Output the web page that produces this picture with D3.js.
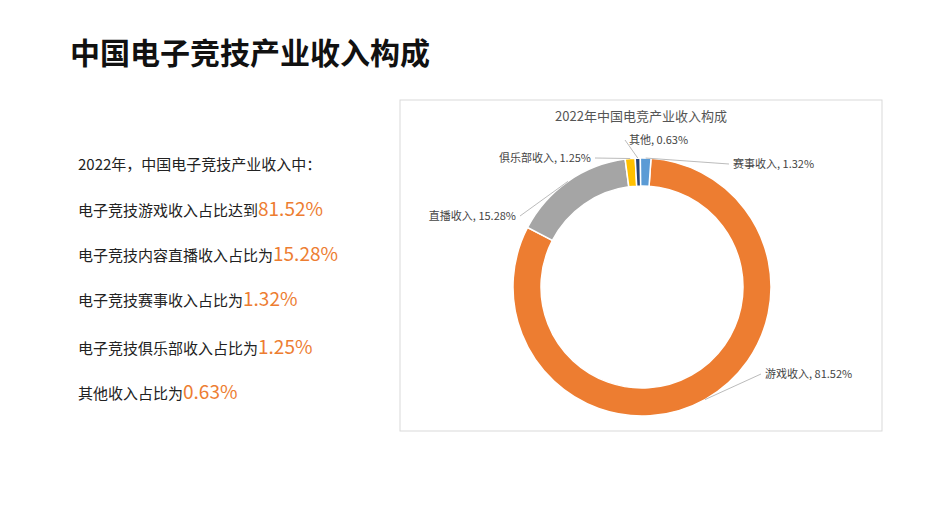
<!DOCTYPE html>
<html><head><meta charset="utf-8">
<script src="https://cdn.jsdelivr.net/npm/d3@7"></script>
<style>body{margin:0;background:#fff;font-family:"Noto Sans CJK SC",sans-serif}</style>
</head><body><svg id="c" width="937" height="529"></svg>
<script>
const categories=["游戏收入","直播收入","俱乐部收入","其他","赛事收入"];
const values=[81.52,15.28,1.25,0.63,1.32];
const colors=["#ED7D31","#A5A5A5","#FFC000","#264478","#5B9BD5"];
const summaryLines=["电子竞技游戏收入占比达到","电子竞技内容直播收入占比为","电子竞技赛事收入占比为","电子竞技俱乐部收入占比为","其他收入占比为"];
const summaryValues=["81.52%","15.28%","1.32%","1.25%","0.63%"];
const labelPos=[[765,378,"start"],[516,220,"end"],[591,162,"end"],[629,144,"start"],[733,168,"start"]];

const svg=d3.select("#c");
svg.append("text").attr("x",70).attr("y",64).attr("font-size",30).attr("font-weight","bold").attr("fill","#111").text("中国电子竞技产业收入构成");
svg.append("text").attr("x",78).attr("y",170).attr("font-size",15).attr("fill","#222").text("2022年，中国电子竞技产业收入中：");
const ys=[216,261,306,354,399];
summaryLines.forEach((t,i)=>{
  const tx=svg.append("text").attr("x",78).attr("y",ys[i]).attr("font-size",15).attr("fill","#222");
  tx.append("tspan").text(t);
  tx.append("tspan").attr("font-size",19).attr("fill","#ED7D31").text(summaryValues[i]);
});
svg.append("rect").attr("x",400).attr("y",100).attr("width",482).attr("height",331).attr("fill","#fff").attr("stroke","#d9d9d9");
svg.append("text").attr("x",641).attr("y",121).attr("text-anchor","middle").attr("font-size",13).attr("fill","#555").text("2022年中国电竞产业收入构成");
const cx=642,cy=287,R=129,r=101;
const pie=d3.pie().sort(null).startAngle(0.07).endAngle(0.07+2*Math.PI)(values);
const arc=d3.arc().innerRadius(r).outerRadius(R);
const g=svg.append("g").attr("transform",`translate(${cx},${cy})`);
g.selectAll("path").data(pie).enter().append("path").attr("d",arc).attr("fill",(d,i)=>colors[i]).attr("stroke","#fff").attr("stroke-width",1.5);
pie.forEach((d,i)=>{
  const [lx,ly,an]=labelPos[i];
  const a=(d.startAngle+d.endAngle)/2;
  const px=cx+Math.sin(a)*R, py=cy-Math.cos(a)*R;
  const ex=an==="start"?lx-4:lx+4;
  svg.append("line").attr("x1",px).attr("y1",py).attr("x2",ex).attr("y2",ly-4).attr("stroke","#aaa").attr("stroke-width",0.8);
  svg.append("text").attr("x",lx).attr("y",ly).attr("text-anchor",an).attr("font-size",11).attr("fill","#444").text(categories[i]+", "+d3.format(".2f")(values[i])+"%");
});
</script></body></html>
